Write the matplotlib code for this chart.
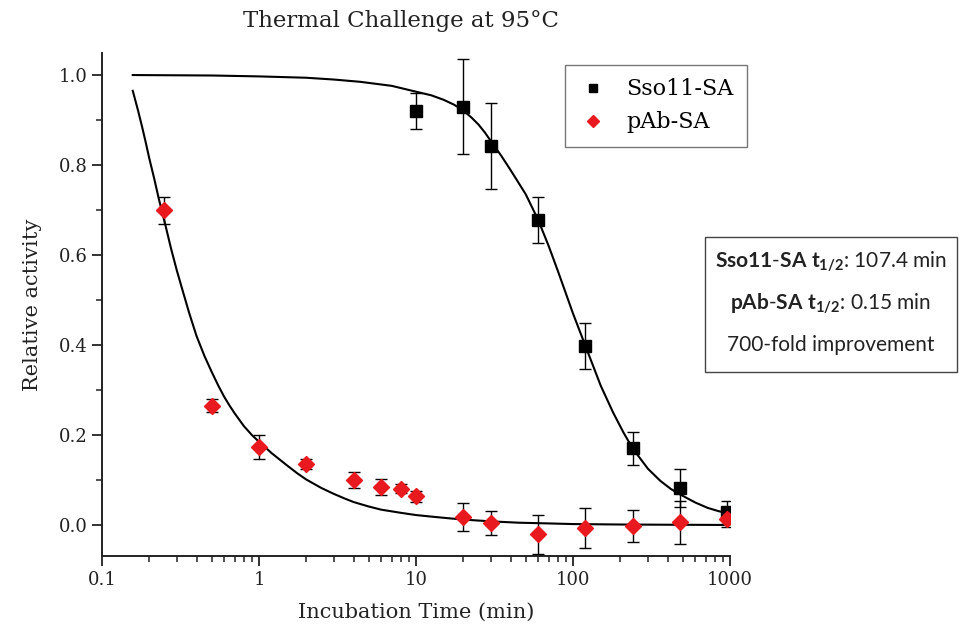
import matplotlib
matplotlib.use("Agg")
import matplotlib.pyplot as plt
import numpy as np
from matplotlib.patches import Rectangle
from matplotlib.ticker import FixedLocator, LogLocator, MultipleLocator, NullFormatter

# measured points
sso_time = [10, 20, 30, 60, 120, 240, 480, 960]
sso_activity = [0.92, 0.93, 0.842, 0.678, 0.398, 0.170, 0.083, 0.028]
sso_err = [0.04, 0.105, 0.096, 0.052, 0.051, 0.037, 0.042, 0.025]

pab_time = [0.25, 0.5, 1, 2, 4, 6, 8, 10, 20, 30, 60, 120, 240, 480, 960]
pab_activity = [0.70, 0.265, 0.174, 0.136, 0.10, 0.084, 0.08, 0.064,
                0.017, 0.005, -0.021, -0.007, -0.002, 0.006, 0.013]
pab_err = [0.03, 0.015, 0.027, 0.011, 0.018, 0.018, 0.01, 0.012,
           0.031, 0.027, 0.044, 0.044, 0.035, 0.048, 0.018]

# fitted curves
sso_fit_time = [0.157, 0.5, 1, 2, 3, 4.4, 7, 10, 12.5, 15, 17.5, 20, 22.5, 25,
                27.5, 30, 35, 40, 50, 60, 70, 80, 90, 100, 120, 150, 180, 210,
                240, 300, 360, 420, 480, 600, 720, 840, 960]
sso_fit_activity = [1.0, 0.999, 0.997, 0.994, 0.99, 0.985, 0.976, 0.963, 0.955,
                    0.945, 0.934, 0.921, 0.906, 0.89, 0.872, 0.853, 0.82, 0.789,
                    0.735, 0.678, 0.62, 0.565, 0.515, 0.47, 0.398, 0.31, 0.25,
                    0.205, 0.170, 0.125, 0.098, 0.08, 0.068, 0.05, 0.038,
                    0.031, 0.026]

pab_fit_time = [0.157, 0.17, 0.18, 0.19, 0.2, 0.215, 0.23, 0.25, 0.275, 0.3,
                0.33, 0.36, 0.4, 0.45, 0.5, 0.55, 0.6, 0.65, 0.7, 0.8, 0.9, 1,
                1.2, 1.5, 1.75, 2, 2.5, 3, 3.5, 4, 5, 6, 8, 10, 13, 16, 20, 30,
                45, 60, 100, 200, 400, 960]
pab_fit_activity = [0.965, 0.92, 0.885, 0.85, 0.815, 0.77, 0.725, 0.675, 0.615,
                    0.565, 0.515, 0.47, 0.42, 0.375, 0.34, 0.31, 0.285, 0.265,
                    0.248, 0.22, 0.2, 0.185, 0.16, 0.133, 0.115, 0.101, 0.082,
                    0.069, 0.059, 0.051, 0.041, 0.034, 0.027, 0.022, 0.018,
                    0.015, 0.012, 0.008, 0.005, 0.004, 0.002, 0.001, 0.0005, 0.0]

x_ticks = [0.1, 1, 10, 100, 1000]
x_tick_labels = ["0.1", "1", "10", "100", "1000"]

box_lines = [r"$\mathbf{Sso11\text{-}SA\ t_{1/2}}$: 107.4 min",
             r"$\mathbf{pAb\text{-}SA\ t_{1/2}}$: 0.15 min",
             "700-fold improvement"]

SERIF = "DejaVu Serif"
SANS = "Lato"
RED = "#e8191f"
INK = "#222222"

plt.rcParams["mathtext.fontset"] = "custom"
plt.rcParams["mathtext.rm"] = "Lato"
plt.rcParams["mathtext.bf"] = "Lato:bold"
plt.rcParams["mathtext.it"] = "Lato:italic"

W, H = 962, 644
fig = plt.figure(figsize=(W / 100, H / 100), dpi=100)
ax = fig.add_axes([102 / W, (H - 556) / H, 628 / W, 503 / H])

ax.plot(sso_fit_time, sso_fit_activity, color="black", lw=1.5, zorder=2)
ax.plot(pab_fit_time, pab_fit_activity, color="black", lw=1.5, zorder=2)

ax.errorbar(sso_time, sso_activity, yerr=sso_err, fmt="s", color="black",
            ms=8, ecolor="black", elinewidth=1, capsize=4.5, capthick=1,
            label="Sso11-SA", zorder=3)
ax.errorbar(pab_time, pab_activity, yerr=pab_err, fmt="D", color=RED,
            ms=8.5, ecolor="black", elinewidth=1, capsize=4.5, capthick=1,
            label="pAb-SA", zorder=3)

ax.set_xscale("log")
ax.set_xlim(0.1, 1000)
ax.set_ylim(-0.069, 1.049)

ax.xaxis.set_major_locator(FixedLocator(x_ticks))
ax.set_xticklabels(x_tick_labels)
ax.xaxis.set_minor_locator(LogLocator(base=10, subs=np.arange(2, 10)))
ax.xaxis.set_minor_formatter(NullFormatter())
ax.yaxis.set_major_locator(MultipleLocator(0.2))
ax.yaxis.set_minor_locator(MultipleLocator(0.1))
ax.set_yticklabels([f"{v:.1f}" for v in ax.get_yticks()])

for side in ("top", "right"):
    ax.spines[side].set_visible(False)
for side in ("left", "bottom"):
    ax.spines[side].set_linewidth(1.4)
    ax.spines[side].set_color(INK)

ax.tick_params(which="major", length=7, width=1.3, direction="out", colors=INK)
ax.tick_params(which="minor", length=4, width=1.1, direction="out", colors=INK)
for label in ax.get_xticklabels() + ax.get_yticklabels():
    label.set_fontfamily(SERIF)
    label.set_fontsize(13)
    label.set_color(INK)

ax.set_xlabel("Incubation Time (min)", fontfamily=SERIF, fontsize=15,
              color=INK, labelpad=10)
ax.set_ylabel("Relative activity", fontfamily=SERIF, fontsize=15,
              color=INK, labelpad=12)

fig.text(401 / W, 1 - 21 / H, "Thermal Challenge at 95°C", ha="center",
         va="center", fontfamily=SERIF, fontsize=16.5, color=INK)

handles, labels = ax.get_legend_handles_labels()
handles = [h[0] for h in handles]
leg = ax.legend(handles, labels, loc="upper left",
                bbox_to_anchor=(565 / W, 1 - 65 / H),
                bbox_transform=fig.transFigure, borderaxespad=0,
                prop={"family": SERIF, "size": 16},
                frameon=True, fancybox=False, edgecolor="#555555",
                handlelength=1.3, handletextpad=0.85, borderpad=0.6,
                labelspacing=0.5, markerscale=0.75)
leg.get_frame().set_linewidth(1.0)

fig.add_artist(Rectangle((705 / W, 1 - 372 / H), 252 / W, 135 / H,
                         transform=fig.transFigure, facecolor="white",
                         edgecolor="#444444", linewidth=1.0, zorder=5))
for line, y_px in zip(box_lines, [262, 304, 345]):
    fig.text(831 / W, 1 - y_px / H, line, ha="center", va="center",
             fontfamily=SANS, fontsize=15, color=INK, zorder=6)

fig.savefig("out.png", dpi=100)
